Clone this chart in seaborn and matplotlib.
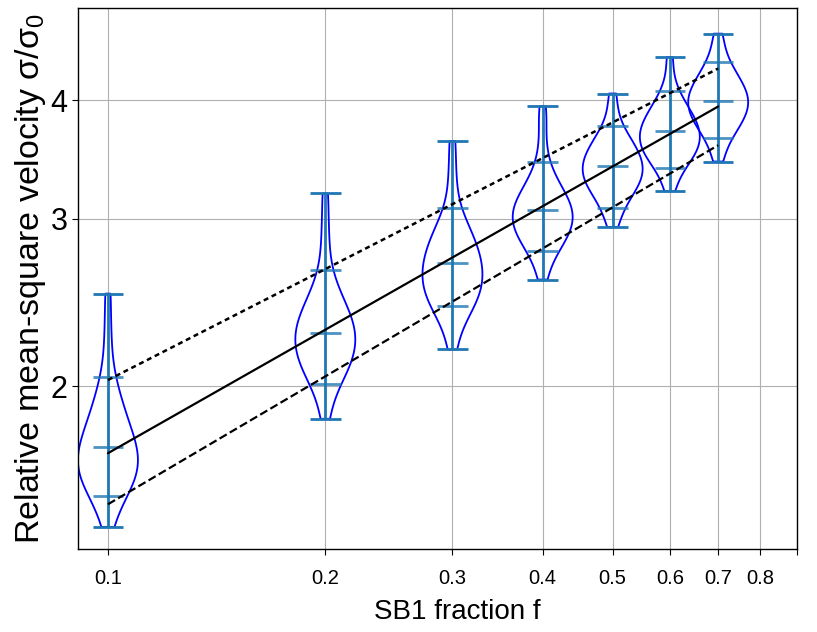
import numpy as np
import pandas as pd
import matplotlib
matplotlib.use("Agg")
import matplotlib.pyplot as plt
import seaborn as sns

# SB1 fraction of each run
fractions = [0.1, 0.2, 0.3, 0.4, 0.5, 0.6, 0.7]

# relative mean-square velocity samples, one list per fraction
sigma_f01 = [1.422, 1.474, 1.511, 1.535, 1.552, 1.569, 1.582, 1.596, 1.609, 1.621, 1.634,
             1.647, 1.659, 1.671, 1.683, 1.696, 1.709, 1.723, 1.738, 1.753, 1.769, 1.788,
             1.807, 1.828, 1.851, 1.878, 1.907, 1.941, 1.984, 2.036, 2.143, 2.30, 2.503]
sigma_f02 = [1.848, 1.932, 1.991, 2.023, 2.049, 2.071, 2.092, 2.111, 2.130, 2.147, 2.164,
             2.181, 2.198, 2.213, 2.230, 2.247, 2.263, 2.280, 2.296, 2.314, 2.333, 2.350,
             2.371, 2.393, 2.417, 2.445, 2.475, 2.514, 2.563, 2.635, 2.775, 2.955, 3.191]
sigma_f03 = [2.186, 2.288, 2.348, 2.382, 2.413, 2.436, 2.460, 2.482, 2.502, 2.522, 2.541,
             2.560, 2.580, 2.598, 2.618, 2.637, 2.657, 2.678, 2.698, 2.719, 2.743, 2.766,
             2.789, 2.816, 2.842, 2.872, 2.905, 2.942, 2.988, 3.053, 3.184, 3.376, 3.624]
sigma_f04 = [2.590, 2.677, 2.738, 2.776, 2.805, 2.830, 2.855, 2.875, 2.895, 2.914, 2.934,
             2.951, 2.968, 2.985, 3.002, 3.019, 3.036, 3.053, 3.071, 3.089, 3.109, 3.128,
             3.149, 3.174, 3.200, 3.225, 3.262, 3.298, 3.352, 3.424, 3.562, 3.765, 3.942]
sigma_f05 = [2.942, 3.016, 3.076, 3.117, 3.154, 3.182, 3.208, 3.234, 3.255, 3.275, 3.294,
             3.314, 3.332, 3.351, 3.369, 3.388, 3.407, 3.425, 3.444, 3.464, 3.483, 3.506,
             3.529, 3.552, 3.578, 3.608, 3.638, 3.675, 3.722, 3.788, 3.905, 4.066]
sigma_f06 = [3.208, 3.291, 3.358, 3.397, 3.431, 3.462, 3.485, 3.508, 3.532, 3.552, 3.572,
             3.592, 3.612, 3.631, 3.651, 3.670, 3.690, 3.710, 3.731, 3.752, 3.773, 3.795,
             3.820, 3.847, 3.874, 3.904, 3.941, 3.979, 4.032, 4.094, 4.224, 4.442]
sigma_f07 = [3.448, 3.544, 3.620, 3.663, 3.707, 3.738, 3.768, 3.798, 3.822, 3.846, 3.870,
             3.894, 3.916, 3.936, 3.958, 3.979, 4.001, 4.022, 4.045, 4.068, 4.089, 4.116,
             4.143, 4.170, 4.200, 4.236, 4.272, 4.318, 4.370, 4.441, 4.557, 4.701]

# marked levels inside each violin
q_upper = [2.046, 2.649, 3.084, 3.445, 3.758, 4.091, 4.389]
q_middle = [1.724, 2.273, 2.696, 3.063, 3.409, 3.711, 3.994]
q_lower = [1.532, 2.010, 2.427, 2.774, 3.079, 3.398, 3.648]

# power-law fits (end points)
fit_f = [0.1, 0.7]
fit_mid = [1.700, 3.94]
fit_upper = [2.03, 4.32]
fit_lower = [1.502, 3.587]

x_ticks = [0.1, 0.2, 0.3, 0.4, 0.5, 0.6, 0.7, 0.8, 0.9]
x_ticklabels = ['0.1', '0.2', '0.3', '0.4', '0.5', '0.6', '0.7', '0.8', '']
y_ticks = [2, 3, 4]
y_ticklabels = ['2', '3', '4']

sns.set_style("ticks")
plt.rcParams['font.family'] = ['Liberation Sans', 'DejaVu Sans']
plt.rcParams['mathtext.default'] = 'regular'
plt.rcParams['text.color'] = 'black'
plt.rcParams['axes.labelcolor'] = 'black'
plt.rcParams['xtick.color'] = 'black'
plt.rcParams['ytick.color'] = 'black'

samples = [sigma_f01, sigma_f02, sigma_f03, sigma_f04, sigma_f05, sigma_f06, sigma_f07]
df = pd.DataFrame({
    'f': np.repeat(fractions, [len(s) for s in samples]),
    'sigma': np.concatenate(samples),
})

fig, ax = plt.subplots(figsize=(8.17, 6.32), dpi=100)
fig.subplots_adjust(left=0.0955, right=0.9755, top=0.987, bottom=0.131)

sns.violinplot(data=df, x='f', y='sigma', native_scale=True, log_scale=(True, True),
               orient='x', cut=0, inner=None, fill=False, color='blue', linewidth=1.3,
               density_norm='width', width=1.24, bw_adjust=0.8, ax=ax)

c0 = '#1f77b4'
cap = 1.05
f = np.array(fractions)
mins = [min(s) for s in samples]
maxs = [max(s) for s in samples]
ax.vlines(f, mins, maxs, color=c0, lw=2, zorder=3)
for vals in (mins, maxs):
    ax.hlines(vals, f / cap, f * cap, color=c0, lw=2, zorder=3)
for vals in (q_lower, q_middle, q_upper):
    ax.hlines(vals, f / cap, f * cap, color=c0, lw=2, alpha=0.8, zorder=3)

ax.plot(fit_f, fit_mid, color='black', ls='-', lw=1.6, zorder=4)
ax.plot(fit_f, fit_upper, color='black', ls=(0, (2, 1.5)), lw=1.8, zorder=4)
ax.plot(fit_f, fit_lower, color='black', ls='--', lw=1.6, zorder=4)

ax.set_xlim(0.0909, 0.9)
ax.set_ylim(1.347, 5.0)
ax.minorticks_off()
ax.set_xticks(x_ticks)
ax.set_xticklabels(x_ticklabels, fontsize=14.5)
ax.set_yticks(y_ticks)
ax.set_yticklabels(y_ticklabels, fontsize=22)
ax.tick_params(axis='both', direction='out', length=4, width=0.8, color='black')
ax.tick_params(axis='x', pad=10)
ax.grid(True, color='#b0b0b0', lw=0.8)
ax.set_axisbelow(True)
for s in ax.spines.values():
    s.set_color('black')
    s.set_linewidth(1.0)

ax.set_xlabel('SB1 fraction f', fontsize=20)
ax.xaxis.set_label_coords(0.527, -0.092)
ax.set_ylabel('Relative mean-square velocity σ/σ$_0$', fontsize=24.5, labelpad=2)

fig.savefig('out.png', dpi=100)
